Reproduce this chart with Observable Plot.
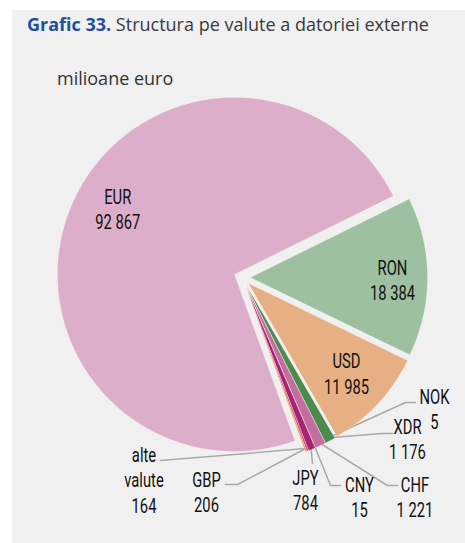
<!DOCTYPE html>
<html><head><meta charset="utf-8">
<script src="https://cdn.jsdelivr.net/npm/d3@7"></script>
<script src="https://cdn.jsdelivr.net/npm/@observablehq/plot@0.6"></script>
<style>
html,body{margin:0;padding:0;background:#fff;width:465px;height:543px;overflow:hidden}
#box{position:absolute;left:12px;top:10px;width:453px;height:533px;background:#f0f0f0}
#title{position:absolute;left:27px;top:12px;font-family:"Open Sans",sans-serif;font-size:18px;line-height:normal;color:#3a3a3a;white-space:nowrap}
#title b{color:#1f4fa0;font-weight:700}
#sub{position:absolute;left:57px;top:66px;font-family:"Open Sans",sans-serif;font-size:18px;line-height:normal;color:#333;white-space:nowrap}
#chart{position:absolute;left:0;top:90px}
</style></head><body>
<div id="box"></div>
<div id="title"><b>Grafic 33.</b> Structura pe valute a datoriei externe</div>
<div id="sub">milioane euro</div>
<div id="chart"></div>
<script>
// ---- data ----
const currencies = ["RON","USD","NOK","XDR","CHF","CNY","JPY","GBP","alte valute","EUR"];
const values = [18384, 11985, 5, 1176, 1221, 15, 784, 206, 164, 92867];
const names = ["RON","USD","NOK","XDR","CHF","CNY","JPY","GBP","alte\nvalute","EUR"];
const valueLabels = ["18 384","11 985","5","1 176","1 221","15","784","206","164","92 867"];
const colors = ["#9cc0a0","#e6b084","#f6f6f6","#4d8b4d","#c46d9f","#e8c6da","#a6236f","#d24a93","#e9a04c","#ddaec9"];

// ---- layout (page pixel coordinates) ----
const W = 465, TOP = 90, H = 543 - TOP;
const C = [241.7, 277], R = 177, EXPLODE = 8.3, START = 63.7;
const bigLabels = {EUR: {da: 7.5, r: 134}, RON: {da: 1, r: 142}, USD: {da: -0.5, r: 133}};
const smallLabels = [
  {c: "NOK", x: 434, y: 395, path: [[405, 402], [415, 402]]},
  {c: "XDR", x: 407, y: 425, path: [[382, 433], [392, 433]]},
  {c: "CHF", x: 414.5, y: 483, path: [[387, 485], [397, 485]]},
  {c: "CNY", x: 359, y: 483, path: [[330, 485], [340, 485]]},
  {c: "JPY", x: 305, y: 476, path: [[312, 463]]},
  {c: "GBP", x: 206, y: 478, path: [[237, 484], [225, 484]]},
  {c: "alte valute", x: 143.5, y: 453.5, path: [[160, 460]]}
];
const LH = 25.3, FS = 20.5, SQUEEZE = 0.72;

const rad = d => d * Math.PI / 180;
const pt = (o, deg, r) => [o[0] + r * Math.sin(rad(deg)), o[1] - r * Math.cos(rad(deg))];

const pie = d3.pie().sort(null).startAngle(rad(START)).endAngle(rad(START + 360))(values);
const slices = pie.map((p, i) => {
  const a0 = p.startAngle * 180 / Math.PI, a1 = p.endAngle * 180 / Math.PI;
  const mid = (a0 + a1) / 2;
  const apex = pt(C, mid, EXPLODE);
  return {c: currencies[i], i, a0, a1, mid, apex};
});

const polyRows = [];
for (const s of slices) {
  polyRows.push({c: s.c, x: s.apex[0], y: s.apex[1]});
  const n = Math.max(2, Math.ceil((s.a1 - s.a0) / 0.5));
  for (let k = 0; k <= n; k++) {
    const [x, y] = pt(s.apex, s.a0 + (s.a1 - s.a0) * k / n, R);
    polyRows.push({c: s.c, x, y});
  }
}

const textRows = [];
for (const s of slices) {
  const b = bigLabels[s.c];
  if (!b) continue;
  const [x, y] = pt(s.apex, s.mid + b.da, b.r);
  textRows.push({x, y, t: names[s.i] + "\n" + valueLabels[s.i]});
}
const leaderRows = [];
for (const L of smallLabels) {
  const s = slices.find(d => d.c === L.c);
  const i = s.i;
  const lines = (names[i] + "\n" + valueLabels[i]).split("\n").length;
  textRows.push({x: L.x, y: L.y + (lines - 1) * LH / 2, t: names[i] + "\n" + valueLabels[i]});
  const start = pt(s.apex, s.mid, R - 3);
  [start, ...L.path].forEach(([x, y], k) => leaderRows.push({c: L.c, x, y, k}));
}

const chart = Plot.plot({
  width: W, height: H, margin: 0,
  x: {domain: [0, W], range: [0, W], axis: null},
  y: {domain: [TOP, TOP + H], range: [0, H], axis: null},
  color: {domain: currencies, range: colors},
  style: {background: "transparent", overflow: "visible"},
  marks: [
    Plot.line(leaderRows, {x: "x", y: "y", z: "c", stroke: "#a9a9a9", strokeWidth: 1.5}),
    Plot.line(polyRows, {x: "x", y: "y", z: "c", fill: "c", stroke: "#ffffff", strokeOpacity: 0.5, strokeWidth: 0.4, curve: "linear-closed"}),
    Plot.text(textRows, {x: "x", y: "y", text: "t", lineAnchor: "middle", lineHeight: LH / FS,
      fontSize: FS, fontWeight: 400, fill: "#111", fontFamily: "Roboto, sans-serif"})
  ]
});
// condense the label glyphs horizontally (narrow typeface look)
chart.querySelectorAll('g[aria-label="text"] text').forEach(t => {
  const tr = t.getAttribute("transform");
  if (tr) t.setAttribute("transform", tr + ` scale(${SQUEEZE},1)`);
  else {
    const x = +t.getAttribute("x") || 0, y = +t.getAttribute("y") || 0;
    t.setAttribute("x", 0); t.setAttribute("y", 0);
    t.setAttribute("transform", `translate(${x},${y}) scale(${SQUEEZE},1)`);
  }
});
document.getElementById("chart").appendChild(chart);
</script>
</body></html>
